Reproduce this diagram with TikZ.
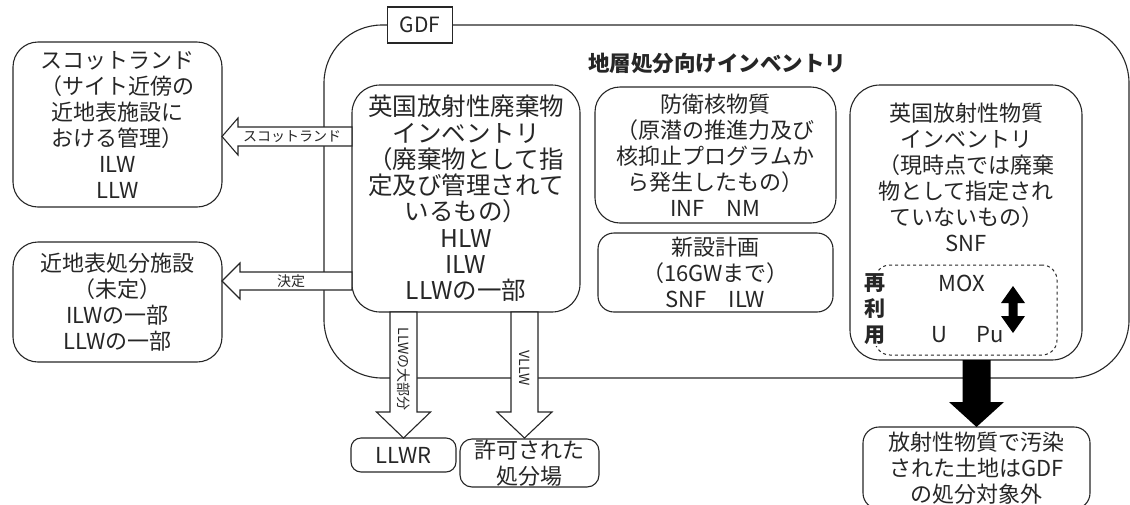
\documentclass[tikz,border=0pt]{standalone}
\usepackage{fontspec}
\setmainfont{Noto Sans CJK JP}
\usetikzlibrary{calc}
\begin{document}
\begin{tikzpicture}[x=1pt,y=-1pt,
  every node/.style={text=black!85, inner sep=0pt, outer sep=0pt},
  box/.style={draw=black!85, line width=1.1pt, rounded corners=#1, align=center,
    font=\fontsize{22}{26}\selectfont},
  box/.default=22,
  harrow/.style={draw=black!85, line width=1.1pt, fill=white},
  lab/.style={font=\fontsize{14}{16}\selectfont},
  txt/.style={align=center, font=\fontsize{22}{26}\selectfont}
]
\useasboundingbox (0,0) rectangle (1130,504);

% GDF container
\node[box=58, minimum width=805pt, minimum height=353pt] (gdf) at (726.5,201.5) {};
\node[draw=black!85, line width=1.1pt, fill=white, minimum width=65pt, minimum height=36pt,
  font=\fontsize{21}{24}\selectfont] (gdflab) at (420,25) {GDF};
\node[font=\fontsize{21.5}{24}\selectfont\bfseries] (title) at (717,63) {地層処分向けインベントリ};

% left boxes
\node[box=25, minimum width=209pt, minimum height=165pt] (scot) at (117.5,124.5)
  {スコットランド\\（サイト近傍の\\近地表施設に\\おける管理）\\ILW\\LLW};
\node[box=25, minimum width=209pt, minimum height=120pt] (near) at (117.5,302)
  {近地表処分施設\\（未定）\\ILWの一部\\LLWの一部};

% inner boxes
\node[box=28, minimum width=228pt, minimum height=227pt, font=\fontsize{24.5}{26.3}\selectfont] (central) at (466,198.5)
  {英国放射性廃棄物\\インベントリ\\（廃棄物として指\\定及び管理されて\\いるもの）\\HLW\\ILW\\LLWの一部};
\node[box=25, minimum width=241pt, minimum height=136pt] (def) at (715.5,155)
  {防衛核物質\\（原潜の推進力及び\\核抑止プログラムか\\ら発生したもの）\\INF　NM};
\node[box=16, minimum width=235pt, minimum height=79pt] (newb) at (715.5,272.5)
  {新設計画\\（16GWまで）\\SNF　ILW};
\node[box=30, minimum width=232pt, minimum height=275pt] (rbox) at (966,222.5) {};
\node[txt] (rtext) at (966,177)
  {英国放射性物質\\インベントリ\\（現時点では廃棄\\物として指定され\\ていないもの）\\SNF};
\node[draw=black!85, line width=1pt, dashed, rounded corners=15, minimum width=182pt, minimum height=90pt] (dbox) at (966,310) {};
\node[fill=white, inner sep=1pt, align=center, font=\fontsize{21}{26}\selectfont\bfseries] (reuse) at (875,309) {再\\利\\用};
\node[font=\fontsize{22}{26}\selectfont] (mox) at (962,283) {MOX};
\node[font=\fontsize{22}{26}\selectfont] (u) at (939,335) {U};
\node[font=\fontsize{22}{26}\selectfont] (pu) at (990,335) {Pu};
\fill[black] (1013,286) -- (1025,303) -- (1017.5,303) -- (1017.5,316) -- (1025,316) -- (1013,333)
  -- (1001,316) -- (1008.5,316) -- (1008.5,303) -- (1001,303) -- cycle;

% bottom boxes
\node[box=10, minimum width=105pt, minimum height=34pt] (llwr) at (403.5,455) {LLWR};
\node[box=12, minimum width=139pt, minimum height=48pt] (kyoka) at (529.5,463) {許可された\\処分場};
\node[box=16, minimum width=227pt, minimum height=82pt] (bot) at (976.5,468)
  {放射性物質で汚染\\された土地はGDF\\の処分対象外};

% left arrows
\draw[harrow] (central.west |- 0,127) -- ($(scot.east |- 0,127)+(16,0)$) -- ($(scot.east |- 0,118)+(16,0)$)
  -- (scot.east |- 0,136.5) -- ($(scot.east |- 0,155)+(16,0)$) -- ($(scot.east |- 0,146)+(16,0)$)
  -- (central.west |- 0,146) -- cycle;
\node[lab] (l1) at (292,136.5) {スコットランド};
\draw[harrow] (central.west |- 0,272) -- ($(near.east |- 0,272)+(18,0)$) -- ($(near.east |- 0,263)+(18,0)$)
  -- (near.east |- 0,281) -- ($(near.east |- 0,299)+(18,0)$) -- ($(near.east |- 0,290)+(18,0)$)
  -- (central.west |- 0,290) -- cycle;
\node[lab] (l2) at (291,281) {決定};

% down arrows
\draw[harrow] ($(llwr.north |- central.south)+(-13.5,0)$) -- ($(llwr.north)+(-13.5,-26)$) -- ($(llwr.north)+(-27,-26)$)
  -- (llwr.north) -- ($(llwr.north)+(27,-26)$) -- ($(llwr.north)+(13.5,-26)$)
  -- ($(llwr.north |- central.south)+(13.5,0)$) -- cycle;
\node[lab, rotate=-90] (l3) at (403.5,369) {LLWの大部分};
\coordinate (vtip) at ($(kyoka.north)+(-5,-1)$);
\draw[harrow] ($(vtip |- central.south)+(-13.5,0)$) -- ($(vtip)+(-13.5,-26)$) -- ($(vtip)+(-27.5,-26)$)
  -- (vtip) -- ($(vtip)+(27.5,-26)$) -- ($(vtip)+(13.5,-26)$)
  -- ($(vtip |- central.south)+(13.5,0)$) -- cycle;
\node[lab, rotate=-90] (l4) at (524.5,368) {VLLW};

% black arrow
\fill[black] ($(bot.north |- rbox.south)+(-14,0)$) -- ($(bot.north)+(-14,-25)$) -- ($(bot.north)+(-27.5,-25)$)
  -- (bot.north) -- ($(bot.north)+(27.5,-25)$) -- ($(bot.north)+(14,-25)$)
  -- ($(bot.north |- rbox.south)+(14,0)$) -- cycle;
\end{tikzpicture}
\end{document}
